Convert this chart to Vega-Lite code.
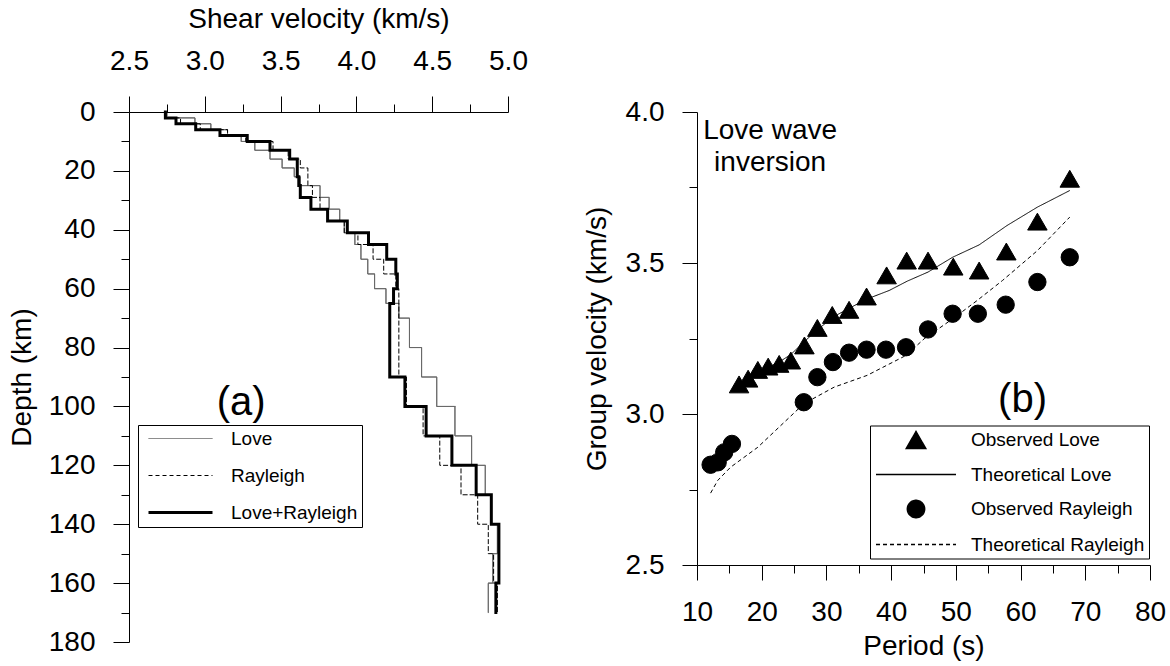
{
  "$schema": "https://vega.github.io/schema/vega-lite/v6.json",
  "padding": {"left": 8, "top": 5, "right": 5, "bottom": 5},
  "bounds": "flush",
  "spacing": 189,
  "resolve": {
    "scale": {"x": "independent", "y": "independent", "color": "independent", "strokeDash": "independent", "strokeWidth": "independent", "shape": "independent", "size": "independent", "stroke": "independent", "fill": "independent"},
    "legend": {"color": "independent", "strokeDash": "independent", "strokeWidth": "independent", "shape": "independent", "size": "independent", "stroke": "independent", "fill": "independent"}
  },
  "config": {
    "view": {"stroke": null},
    "font": "Liberation Sans",
    "axis": {
      "grid": false, "domainColor": "black", "tickColor": "black", "labelColor": "black", "titleColor": "black",
      "labelFontSize": 28, "titleFontSize": 28, "titleFontWeight": "normal", "labelFont": "Liberation Sans", "titleFont": "Liberation Sans",
      "labelFlush": false, "labelOverlap": false, "tickWidth": 1, "domainWidth": 1
    },
    "legend": {"labelFont": "Liberation Sans", "labelColor": "black", "labelLimit": 400}
  },
  "datasets": {
    "prof": [
      {"m": "Love", "v": 2.74, "d0": 0, "d1": 2}, {"m": "Love", "v": 2.935, "d0": 2, "d1": 4}, {"m": "Love", "v": 3.04, "d0": 4, "d1": 6},
      {"m": "Love", "v": 3.15, "d0": 6, "d1": 8}, {"m": "Love", "v": 3.24, "d0": 8, "d1": 10}, {"m": "Love", "v": 3.33, "d0": 10, "d1": 13},
      {"m": "Love", "v": 3.43, "d0": 13, "d1": 16}, {"m": "Love", "v": 3.51, "d0": 16, "d1": 19}, {"m": "Love", "v": 3.59, "d0": 19, "d1": 22},
      {"m": "Love", "v": 3.63, "d0": 22, "d1": 25}, {"m": "Love", "v": 3.76, "d0": 25, "d1": 29}, {"m": "Love", "v": 3.82, "d0": 29, "d1": 33},
      {"m": "Love", "v": 3.89, "d0": 33, "d1": 37}, {"m": "Love", "v": 3.92, "d0": 37, "d1": 41}, {"m": "Love", "v": 3.99, "d0": 41, "d1": 45},
      {"m": "Love", "v": 4.03, "d0": 45, "d1": 50}, {"m": "Love", "v": 4.075, "d0": 50, "d1": 55}, {"m": "Love", "v": 4.12, "d0": 55, "d1": 60},
      {"m": "Love", "v": 4.195, "d0": 60, "d1": 65}, {"m": "Love", "v": 4.28, "d0": 65, "d1": 70}, {"m": "Love", "v": 4.35, "d0": 70, "d1": 80},
      {"m": "Love", "v": 4.43, "d0": 80, "d1": 90}, {"m": "Love", "v": 4.53, "d0": 90, "d1": 100}, {"m": "Love", "v": 4.65, "d0": 100, "d1": 110},
      {"m": "Love", "v": 4.76, "d0": 110, "d1": 120}, {"m": "Love", "v": 4.85, "d0": 120, "d1": 130}, {"m": "Love", "v": 4.89, "d0": 130, "d1": 140},
      {"m": "Love", "v": 4.93, "d0": 140, "d1": 150}, {"m": "Love", "v": 4.90, "d0": 150, "d1": 160}, {"m": "Love", "v": 4.87, "d0": 160, "d1": 170},
      {"m": "Rayleigh", "v": 2.75, "d0": 0, "d1": 2}, {"m": "Rayleigh", "v": 2.84, "d0": 2, "d1": 4}, {"m": "Rayleigh", "v": 2.97, "d0": 4, "d1": 6},
      {"m": "Rayleigh", "v": 3.15, "d0": 6, "d1": 8}, {"m": "Rayleigh", "v": 3.27, "d0": 8, "d1": 10}, {"m": "Rayleigh", "v": 3.45, "d0": 10, "d1": 13},
      {"m": "Rayleigh", "v": 3.55, "d0": 13, "d1": 16}, {"m": "Rayleigh", "v": 3.63, "d0": 16, "d1": 19}, {"m": "Rayleigh", "v": 3.68, "d0": 19, "d1": 25},
      {"m": "Rayleigh", "v": 3.71, "d0": 25, "d1": 29}, {"m": "Rayleigh", "v": 3.76, "d0": 29, "d1": 33}, {"m": "Rayleigh", "v": 3.81, "d0": 33, "d1": 37},
      {"m": "Rayleigh", "v": 3.92, "d0": 37, "d1": 41}, {"m": "Rayleigh", "v": 4.01, "d0": 41, "d1": 45}, {"m": "Rayleigh", "v": 4.11, "d0": 45, "d1": 50},
      {"m": "Rayleigh", "v": 4.18, "d0": 50, "d1": 55}, {"m": "Rayleigh", "v": 4.26, "d0": 55, "d1": 60}, {"m": "Rayleigh", "v": 4.28, "d0": 60, "d1": 90},
      {"m": "Rayleigh", "v": 4.33, "d0": 90, "d1": 100}, {"m": "Rayleigh", "v": 4.44, "d0": 100, "d1": 110}, {"m": "Rayleigh", "v": 4.55, "d0": 110, "d1": 120},
      {"m": "Rayleigh", "v": 4.69, "d0": 120, "d1": 130}, {"m": "Rayleigh", "v": 4.80, "d0": 130, "d1": 140}, {"m": "Rayleigh", "v": 4.87, "d0": 140, "d1": 150},
      {"m": "Rayleigh", "v": 4.905, "d0": 150, "d1": 160}, {"m": "Rayleigh", "v": 4.93, "d0": 160, "d1": 170},
      {"m": "Love+Rayleigh", "v": 2.74, "d0": 0, "d1": 2}, {"m": "Love+Rayleigh", "v": 2.81, "d0": 2, "d1": 4}, {"m": "Love+Rayleigh", "v": 2.94, "d0": 4, "d1": 6},
      {"m": "Love+Rayleigh", "v": 3.10, "d0": 6, "d1": 8}, {"m": "Love+Rayleigh", "v": 3.28, "d0": 8, "d1": 10}, {"m": "Love+Rayleigh", "v": 3.43, "d0": 10, "d1": 13},
      {"m": "Love+Rayleigh", "v": 3.56, "d0": 13, "d1": 16}, {"m": "Love+Rayleigh", "v": 3.61, "d0": 16, "d1": 22}, {"m": "Love+Rayleigh", "v": 3.62, "d0": 22, "d1": 25},
      {"m": "Love+Rayleigh", "v": 3.63, "d0": 25, "d1": 29}, {"m": "Love+Rayleigh", "v": 3.70, "d0": 29, "d1": 33}, {"m": "Love+Rayleigh", "v": 3.81, "d0": 33, "d1": 37},
      {"m": "Love+Rayleigh", "v": 3.94, "d0": 37, "d1": 41}, {"m": "Love+Rayleigh", "v": 4.08, "d0": 41, "d1": 45}, {"m": "Love+Rayleigh", "v": 4.20, "d0": 45, "d1": 50},
      {"m": "Love+Rayleigh", "v": 4.26, "d0": 50, "d1": 55}, {"m": "Love+Rayleigh", "v": 4.27, "d0": 55, "d1": 60}, {"m": "Love+Rayleigh", "v": 4.245, "d0": 60, "d1": 65},
      {"m": "Love+Rayleigh", "v": 4.22, "d0": 65, "d1": 90}, {"m": "Love+Rayleigh", "v": 4.32, "d0": 90, "d1": 100}, {"m": "Love+Rayleigh", "v": 4.46, "d0": 100, "d1": 110},
      {"m": "Love+Rayleigh", "v": 4.63, "d0": 110, "d1": 120}, {"m": "Love+Rayleigh", "v": 4.79, "d0": 120, "d1": 130}, {"m": "Love+Rayleigh", "v": 4.89, "d0": 130, "d1": 140},
      {"m": "Love+Rayleigh", "v": 4.94, "d0": 140, "d1": 160}, {"m": "Love+Rayleigh", "v": 4.92, "d0": 160, "d1": 170}
    ],
    "disp": [
      {"s": "Observed Love", "T": 16.5, "g": 3.098}, {"s": "Observed Love", "T": 17.9, "g": 3.117}, {"s": "Observed Love", "T": 19.4, "g": 3.146},
      {"s": "Observed Love", "T": 21.0, "g": 3.157}, {"s": "Observed Love", "T": 22.7, "g": 3.166}, {"s": "Observed Love", "T": 24.5, "g": 3.177},
      {"s": "Observed Love", "T": 26.6, "g": 3.227}, {"s": "Observed Love", "T": 28.6, "g": 3.285}, {"s": "Observed Love", "T": 30.9, "g": 3.328},
      {"s": "Observed Love", "T": 33.5, "g": 3.345}, {"s": "Observed Love", "T": 36.2, "g": 3.389}, {"s": "Observed Love", "T": 39.3, "g": 3.459},
      {"s": "Observed Love", "T": 42.4, "g": 3.508}, {"s": "Observed Love", "T": 45.7, "g": 3.508}, {"s": "Observed Love", "T": 49.6, "g": 3.488},
      {"s": "Observed Love", "T": 53.6, "g": 3.475}, {"s": "Observed Love", "T": 57.8, "g": 3.538}, {"s": "Observed Love", "T": 62.6, "g": 3.637},
      {"s": "Observed Love", "T": 67.6, "g": 3.779},
      {"s": "Observed Rayleigh", "T": 12.1, "g": 2.832}, {"s": "Observed Rayleigh", "T": 13.2, "g": 2.84}, {"s": "Observed Rayleigh", "T": 14.2, "g": 2.873},
      {"s": "Observed Rayleigh", "T": 15.4, "g": 2.901}, {"s": "Observed Rayleigh", "T": 26.5, "g": 3.039}, {"s": "Observed Rayleigh", "T": 28.6, "g": 3.122},
      {"s": "Observed Rayleigh", "T": 31.0, "g": 3.172}, {"s": "Observed Rayleigh", "T": 33.5, "g": 3.203}, {"s": "Observed Rayleigh", "T": 36.2, "g": 3.213},
      {"s": "Observed Rayleigh", "T": 39.2, "g": 3.213}, {"s": "Observed Rayleigh", "T": 42.3, "g": 3.221}, {"s": "Observed Rayleigh", "T": 45.7, "g": 3.28},
      {"s": "Observed Rayleigh", "T": 49.5, "g": 3.332}, {"s": "Observed Rayleigh", "T": 53.4, "g": 3.332}, {"s": "Observed Rayleigh", "T": 57.7, "g": 3.362},
      {"s": "Observed Rayleigh", "T": 62.6, "g": 3.437}, {"s": "Observed Rayleigh", "T": 67.6, "g": 3.519},
      {"s": "Theoretical Love", "T": 18.0, "g": 3.125}, {"s": "Theoretical Love", "T": 19.4, "g": 3.138}, {"s": "Theoretical Love", "T": 21.0, "g": 3.155},
      {"s": "Theoretical Love", "T": 22.7, "g": 3.172}, {"s": "Theoretical Love", "T": 24.5, "g": 3.197}, {"s": "Theoretical Love", "T": 26.6, "g": 3.24},
      {"s": "Theoretical Love", "T": 28.6, "g": 3.279}, {"s": "Theoretical Love", "T": 31.2, "g": 3.323}, {"s": "Theoretical Love", "T": 33.5, "g": 3.35},
      {"s": "Theoretical Love", "T": 36.3, "g": 3.381}, {"s": "Theoretical Love", "T": 39.7, "g": 3.409}, {"s": "Theoretical Love", "T": 42.5, "g": 3.44},
      {"s": "Theoretical Love", "T": 45.7, "g": 3.47}, {"s": "Theoretical Love", "T": 49.5, "g": 3.519}, {"s": "Theoretical Love", "T": 53.6, "g": 3.56},
      {"s": "Theoretical Love", "T": 57.9, "g": 3.624}, {"s": "Theoretical Love", "T": 62.6, "g": 3.685}, {"s": "Theoretical Love", "T": 67.6, "g": 3.74},
      {"s": "Theoretical Rayleigh", "T": 12.1, "g": 2.738}, {"s": "Theoretical Rayleigh", "T": 13.2, "g": 2.78}, {"s": "Theoretical Rayleigh", "T": 15.2, "g": 2.824},
      {"s": "Theoretical Rayleigh", "T": 19.4, "g": 2.89}, {"s": "Theoretical Rayleigh", "T": 23.5, "g": 2.973}, {"s": "Theoretical Rayleigh", "T": 26.5, "g": 3.034},
      {"s": "Theoretical Rayleigh", "T": 31.2, "g": 3.089}, {"s": "Theoretical Rayleigh", "T": 36.3, "g": 3.128}, {"s": "Theoretical Rayleigh", "T": 42.3, "g": 3.194},
      {"s": "Theoretical Rayleigh", "T": 45.1, "g": 3.249}, {"s": "Theoretical Rayleigh", "T": 49.5, "g": 3.315}, {"s": "Theoretical Rayleigh", "T": 53.3, "g": 3.376},
      {"s": "Theoretical Rayleigh", "T": 57.2, "g": 3.442}, {"s": "Theoretical Rayleigh", "T": 62.6, "g": 3.541}, {"s": "Theoretical Rayleigh", "T": 67.6, "g": 3.652}
    ]
  },
  "hconcat": [
    {
      "width": 379,
      "height": 530,
      "layer": [
        {
          "data": {"name": "prof"},
          "transform": [{"fold": ["d0", "d1"]}],
          "mark": {"type": "line", "strokeJoin": "miter", "strokeCap": "square"},
          "encoding": {
            "x": {"field": "v", "type": "quantitative", "scale": {"domain": [2.5, 5], "nice": false, "zero": false},
              "axis": {"orient": "top", "values": [2.5, 3, 3.5, 4, 4.5, 5], "format": ".1f", "tickSize": 16, "labelPadding": 21, "title": "Shear velocity (km/s)", "titlePadding": 14}},
            "y": {"field": "value", "type": "quantitative", "scale": {"domain": [0, 180], "reverse": true, "nice": false, "zero": false},
              "axis": {"orient": "left", "values": [0, 20, 40, 60, 80, 100, 120, 140, 160, 180], "tickSize": 16, "labelPadding": 18, "title": "Depth (km)", "titlePadding": 12}},
            "color": {"field": "m", "type": "ordinal", "scale": {"type": "ordinal", "domain": ["Love", "Rayleigh", "Love+Rayleigh"], "range": ["#666666", "#000000", "#000000"]},
              "legend": {"orient": "none", "legendX": 9, "legendY": 313, "title": null, "strokeColor": "black", "fillColor": "white", "padding": 4, "symbolOffset": 29, "symbolType": "M-4,0L4,0", "symbolSize": 256, "labelFontSize": 19, "labelOffset": 41, "rowPadding": 17}},
            "strokeDash": {"field": "m", "type": "ordinal", "scale": {"type": "ordinal", "domain": ["Love", "Rayleigh", "Love+Rayleigh"], "range": [[1, 0], [4, 3], [1, 0]]},
              "legend": {"orient": "none", "legendX": 9, "legendY": 313, "title": null, "strokeColor": "black", "fillColor": "white", "padding": 4, "symbolOffset": 29, "symbolType": "M-4,0L4,0", "symbolSize": 256, "labelFontSize": 19, "labelOffset": 41, "rowPadding": 17}},
            "strokeWidth": {"field": "m", "type": "ordinal", "scale": {"type": "ordinal", "domain": ["Love", "Rayleigh", "Love+Rayleigh"], "range": [1, 1, 3]},
              "legend": {"orient": "none", "legendX": 9, "legendY": 313, "title": null, "strokeColor": "black", "fillColor": "white", "padding": 4, "symbolOffset": 29, "symbolType": "M-4,0L4,0", "symbolSize": 256, "labelFontSize": 19, "labelOffset": 41, "rowPadding": 17}},
            "order": {"field": "value", "type": "quantitative"}
          }
        },
        {
          "data": {"name": "prof"},
          "mark": {"type": "point", "opacity": 0},
          "encoding": {
            "x": {"field": "v", "type": "quantitative", "axis": {"orient": "top", "values": [2.75, 3.25, 3.75, 4.25, 4.75], "tickSize": 8, "labels": false, "domain": false, "title": null}},
            "y": {"field": "d0", "type": "quantitative", "axis": {"orient": "left", "values": [10, 30, 50, 70, 90, 110, 130, 150, 170], "tickSize": 8, "labels": false, "domain": false, "title": null}}
          }
        },
        {
          "data": {"values": [{}]},
          "mark": {"type": "text", "text": "(a)", "fontSize": 40, "font": "Liberation Sans", "align": "center", "baseline": "middle", "color": "black"},
          "encoding": {
            "x": {"datum": 3.24, "type": "quantitative", "axis": null},
            "y": {"datum": 98.8, "type": "quantitative", "axis": null}
          }
        }
      ],
      "resolve": {"axis": {"x": "independent", "y": "independent"}}
    },
    {
      "width": 453,
      "height": 453,
      "layer": [
        {
          "data": {"name": "disp"},
          "transform": [{"filter": "indexof(datum.s, 'Theoretical') === 0"}],
          "mark": {"type": "line", "color": "black", "strokeWidth": 1},
          "encoding": {
            "x": {"field": "T", "type": "quantitative", "scale": {"domain": [10, 80], "nice": false, "zero": false},
              "axis": {"orient": "bottom", "values": [10, 20, 30, 40, 50, 60, 70, 80], "tickSize": 15, "labelPadding": 18, "title": "Period (s)", "titlePadding": 6}},
            "y": {"field": "g", "type": "quantitative", "scale": {"domain": [2.5, 4.0], "nice": false, "zero": false},
              "axis": {"orient": "left", "values": [2.5, 3.0, 3.5, 4.0], "format": ".1f", "tickSize": 15, "labelPadding": 18, "title": "Group velocity (km/s)", "titlePadding": 14}},
            "strokeDash": {"field": "s", "type": "nominal", "scale": {"type": "ordinal", "domain": ["Observed Love", "Theoretical Love", "Observed Rayleigh", "Theoretical Rayleigh"], "range": [[1, 0], [1, 0], [1, 0], [4, 3]]},
              "legend": {"orient": "none", "legendX": 173, "legendY": 313.5, "title": null, "strokeColor": "black", "fillColor": "white", "padding": 4, "symbolOffset": 31, "labelFontSize": 19, "labelOffset": 44, "rowPadding": 12}}
          }
        },
        {
          "data": {"name": "disp"},
          "transform": [{"filter": "indexof(datum.s, 'Observed') === 0"}],
          "mark": {"type": "point", "filled": true, "opacity": 1, "strokeWidth": 1},
          "encoding": {
            "x": {"field": "T", "type": "quantitative", "axis": null},
            "y": {"field": "g", "type": "quantitative", "axis": null},
            "shape": {"field": "s", "type": "nominal", "scale": {"type": "ordinal", "domain": ["Observed Love", "Theoretical Love", "Observed Rayleigh", "Theoretical Rayleigh"], "range": ["triangle-up", "M-4,0L4,0", "circle", "M-4,0L4,0"]},
              "legend": {"orient": "none", "legendX": 173, "legendY": 313.5, "title": null, "strokeColor": "black", "fillColor": "white", "padding": 4, "symbolOffset": 31, "labelFontSize": 19, "labelOffset": 44, "rowPadding": 12}},
            "size": {"field": "s", "type": "nominal", "scale": {"type": "ordinal", "domain": ["Observed Love", "Theoretical Love", "Observed Rayleigh", "Theoretical Rayleigh"], "range": [380, 400, 300, 400]},
              "legend": {"orient": "none", "legendX": 173, "legendY": 313.5, "title": null, "strokeColor": "black", "fillColor": "white", "padding": 4, "symbolOffset": 31, "labelFontSize": 19, "labelOffset": 44, "rowPadding": 12}},
            "stroke": {"field": "s", "type": "nominal", "scale": {"type": "ordinal", "domain": ["Observed Love", "Theoretical Love", "Observed Rayleigh", "Theoretical Rayleigh"], "range": ["black", "black", "black", "black"]},
              "legend": {"orient": "none", "legendX": 173, "legendY": 313.5, "title": null, "strokeColor": "black", "fillColor": "white", "padding": 4, "symbolOffset": 31, "labelFontSize": 19, "labelOffset": 44, "rowPadding": 12}},
            "fill": {"field": "s", "type": "nominal", "scale": {"type": "ordinal", "domain": ["Observed Love", "Theoretical Love", "Observed Rayleigh", "Theoretical Rayleigh"], "range": ["black", "black", "black", "black"]},
              "legend": {"orient": "none", "legendX": 173, "legendY": 313.5, "title": null, "strokeColor": "black", "fillColor": "white", "padding": 4, "symbolOffset": 31, "labelFontSize": 19, "labelOffset": 44, "rowPadding": 12}}
          }
        },
        {
          "data": {"name": "disp"},
          "mark": {"type": "point", "opacity": 0},
          "encoding": {
            "x": {"field": "T", "type": "quantitative", "axis": {"orient": "bottom", "values": [15, 25, 35, 45, 55, 65, 75], "tickSize": 8, "labels": false, "domain": false, "title": null}},
            "y": {"field": "g", "type": "quantitative", "axis": {"orient": "left", "values": [2.75, 3.25, 3.75], "tickSize": 8, "labels": false, "domain": false, "title": null}}
          }
        },
        {
          "data": {"values": [{}]},
          "mark": {"type": "text", "text": ["Love wave", "inversion"], "fontSize": 28, "font": "Liberation Sans", "align": "center", "baseline": "alphabetic", "lineHeight": 32, "color": "black"},
          "encoding": {
            "x": {"datum": 21.3, "type": "quantitative", "axis": null},
            "y": {"datum": 3.912, "type": "quantitative", "axis": null}
          }
        },
        {
          "data": {"values": [{}]},
          "mark": {"type": "text", "text": "(b)", "fontSize": 40, "font": "Liberation Sans", "align": "center", "baseline": "middle", "color": "black"},
          "encoding": {
            "x": {"datum": 60.3, "type": "quantitative", "axis": null},
            "y": {"datum": 3.045, "type": "quantitative", "axis": null}
          }
        }
      ],
      "resolve": {"axis": {"x": "independent", "y": "independent"}}
    }
  ]
}
